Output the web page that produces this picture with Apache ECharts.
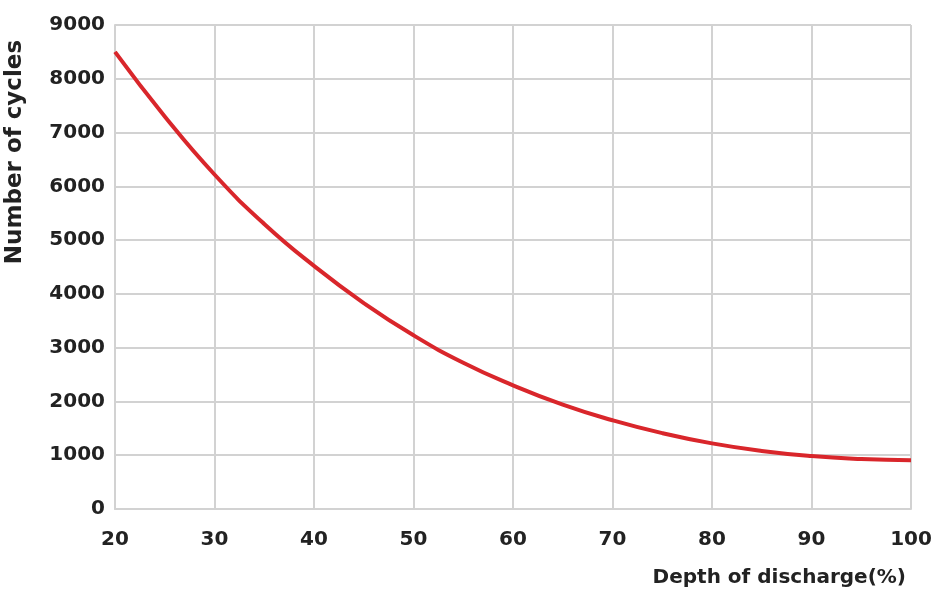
<!DOCTYPE html>
<html>
<head>
<meta charset="utf-8">
<script src="https://cdn.jsdelivr.net/npm/echarts@6/dist/echarts.min.js"></script>
<style>html,body{margin:0;padding:0;background:#fff}#c{width:941px;height:608px}</style>
</head>
<body>
<div id="c"></div>
<script>
var depth = [20, 25, 30, 35, 40, 45, 50, 55, 60, 65, 70, 75, 80, 85, 90, 95, 100];
var cycles = [8500, 7300, 6220, 5300, 4520, 3830, 3230, 2720, 2300, 1940, 1650, 1410, 1220, 1080, 985, 930, 905];
var xTitle = 'Depth of discharge(%)';
var yTitle = 'Number of cycles';

var chart = echarts.init(document.getElementById('c'));
var fontFam = '"DejaVu Sans", Verdana, sans-serif';
chart.setOption({
  animation: false,
  backgroundColor: '#ffffff',
  grid: {left: 115, right: 30, top: 25, bottom: 99},
  xAxis: {
    type: 'value', min: 20, max: 100, interval: 10,
    axisLine: {show: true, lineStyle: {color: '#d2d2d2', width: 2}},
    axisTick: {show: false},
    splitLine: {show: true, lineStyle: {color: '#d2d2d2', width: 2}},
    axisLabel: {color: '#222', fontFamily: fontFam, fontWeight: 'bold', fontSize: 20, margin: 21,
      formatter: function (v) { return String(v); }}
  },
  yAxis: {
    type: 'value', min: 0, max: 9000, interval: 1000,
    axisLine: {show: true, lineStyle: {color: '#d2d2d2', width: 2}},
    axisTick: {show: false},
    splitLine: {show: true, lineStyle: {color: '#d2d2d2', width: 2}},
    axisLabel: {color: '#222', fontFamily: fontFam, fontWeight: 'bold', fontSize: 20, margin: 10,
      formatter: function (v) { return String(v); }}
  },
  graphic: [
    {type: 'text', x: 15, y: 152, rotation: Math.PI / 2,
     style: {text: yTitle, fill: '#222', font: 'bold 23px ' + fontFam, align: 'center', verticalAlign: 'middle'}},
    {type: 'text', x: 906, y: 578,
     style: {text: xTitle, fill: '#222', font: 'bold 20px ' + fontFam, align: 'right', verticalAlign: 'middle'}}
  ],
  series: [{
    type: 'line', smooth: true, showSymbol: false,
    data: depth.map(function (d, i) { return [d, cycles[i]]; }),
    lineStyle: {color: '#d9262b', width: 4}
  }]
});
</script>
</body>
</html>
